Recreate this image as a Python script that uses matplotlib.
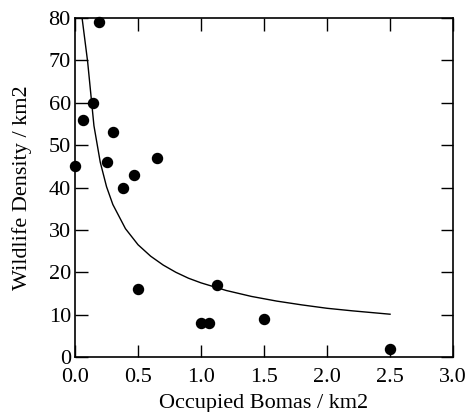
import matplotlib
matplotlib.use("Agg")
import matplotlib.pyplot as plt

plt.rcParams['font.family'] = ['Liberation Serif', 'DejaVu Serif']

# Observed data points
bomas = [0.0, 0.065, 0.14, 0.193, 0.257, 0.299, 0.384, 0.466, 0.653,
         0.503, 1.0, 1.063, 1.13, 1.5, 2.497]
density = [45, 56, 60, 79, 46, 53, 40, 43, 47,
           16, 8, 8, 17, 9, 2]

# Fitted curve
curve_x = [0.056, 0.1, 0.15, 0.2, 0.25, 0.3, 0.4, 0.5, 0.6, 0.7, 0.8, 0.9,
           1.0, 1.2, 1.4, 1.6, 1.8, 2.0, 2.2, 2.5]
curve_y = [80, 69.7, 54.6, 46.0, 40.2, 36.0, 30.3, 26.5, 23.8, 21.7, 20.0, 18.6,
           17.5, 15.7, 14.3, 13.2, 12.3, 11.5, 10.9, 10.1]

xticks = [0.0, 0.5, 1.0, 1.5, 2.0, 2.5, 3.0]
yticks = [0, 10, 20, 30, 40, 50, 60, 70, 80]

fig = plt.figure(figsize=(4.69, 4.12), dpi=100)
ax = fig.add_axes([0.16, 0.1335, 0.806, 0.8225])

ax.plot(curve_x, curve_y, color='black', linewidth=1.0, clip_on=True)
ax.scatter(bomas, density, s=52, color='black', zorder=3, clip_on=False)

ax.set_xlim(0, 3)
ax.set_ylim(0, 80)
ax.set_xticks(xticks)
ax.set_xticklabels([f"{t:.1f}" for t in xticks])
ax.set_yticks(yticks)
ax.set_yticklabels([str(t) for t in yticks])
ax.tick_params(direction='in', length=9, width=1.0, top=True, right=True,
               labelsize=16)
ax.tick_params(axis='x', pad=8)
ax.tick_params(axis='y', pad=3)
for sp in ax.spines.values():
    sp.set_linewidth(1.2)

ax.set_xlabel('Occupied Bomas / km2', fontsize=16, labelpad=5)
ax.set_ylabel('Wildlife Density / km2', fontsize=16, labelpad=12)

fig.savefig('out.png', dpi=100)
